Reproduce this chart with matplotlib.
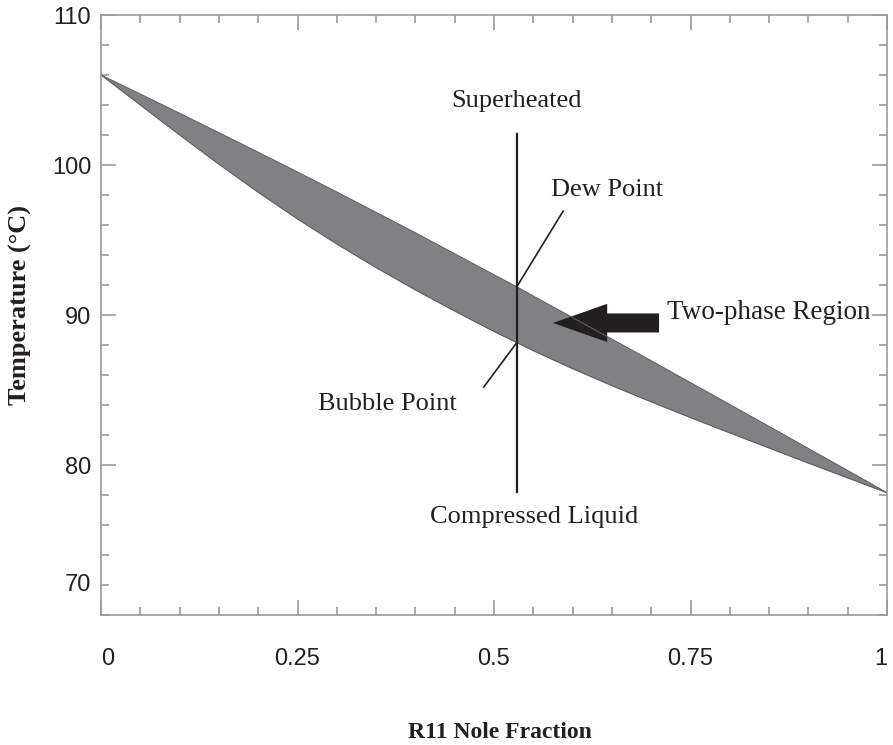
import matplotlib
matplotlib.use("Agg")
import matplotlib.pyplot as plt
from matplotlib.patches import FancyArrow
from matplotlib.ticker import MultipleLocator, FixedLocator

# R11 mole fraction and the two saturation curves (deg C)
x_frac = [0.0, 0.05, 0.1, 0.15, 0.2, 0.25, 0.3, 0.35, 0.4, 0.45, 0.5, 0.529,
          0.55, 0.6, 0.65, 0.7, 0.75, 0.8, 0.85, 0.9, 0.95, 1.0]
t_dew = [106.0, 104.73, 103.45, 102.15, 100.85, 99.53, 98.2, 96.84, 95.48,
         94.08, 92.68, 91.88, 91.26, 89.83, 88.39, 86.95, 85.49, 84.03,
         82.57, 81.1, 79.63, 78.15]
t_bubble = [106.0, 104.0, 102.0, 100.05, 98.18, 96.4, 94.73, 93.16, 91.67,
            90.26, 88.9, 88.16, 87.62, 86.42, 85.29, 84.21, 83.16, 82.14,
            81.13, 80.13, 79.14, 78.15]

# state line at fixed composition
x_state = 0.529
t_state = [78.2, 102.1]
t_dew_pt = 91.88
t_bubble_pt = 88.16

x_ticks = [0, 0.25, 0.5, 0.75, 1]
x_ticklabels = ["0", "0.25", "0.5", "0.75", "1"]
y_ticks = [80, 90, 100, 110]
y_ticklabels = ["80", "90", "100", "110"]

dark = "#231f20"
spine_col = "#9a9a9a"
serif = "Liberation Serif"
sans = "Liberation Sans"

fig = plt.figure(figsize=(8.93, 7.45), dpi=100)
ax = fig.add_axes([101 / 893, 130 / 745, 786 / 893, 600 / 745])

ax.fill_between(x_frac, t_bubble, t_dew, color="#808185", lw=0)
ax.plot(x_frac, t_dew, color="#5e5f62", lw=0.8)
ax.plot(x_frac, t_bubble, color="#5e5f62", lw=0.8)

ax.plot([x_state, x_state], t_state, color=dark, lw=1.6)
ax.plot([x_state, 0.588], [t_dew_pt, 96.93], color=dark, lw=1.2)
ax.plot([x_state, 0.487], [t_bubble_pt, 85.2], color=dark, lw=1.2)

ax.add_patch(FancyArrow(0.710, 89.47, -0.135, 0, width=1.27, head_width=2.55,
                        head_length=0.069, length_includes_head=True,
                        color=dark, lw=0))

ax.text(0.529, 104.3, "Superheated", family=serif, fontsize=19,
        ha="center", va="center", color=dark)
ax.text(0.644, 98.35, "Dew Point", family=serif, fontsize=19,
        ha="center", va="center", color=dark)
ax.text(0.720, 90.15, "Two-phase Region", family=serif, fontsize=19.5,
        ha="left", va="center", color=dark)
ax.text(0.3645, 84.05, "Bubble Point", family=serif, fontsize=19,
        ha="center", va="center", color=dark)
ax.text(0.551, 76.5, "Compressed Liquid", family=serif, fontsize=19,
        ha="center", va="center", color=dark)

ax.set_xlim(0, 1)
ax.set_ylim(70, 110)
ax.xaxis.set_major_locator(FixedLocator(x_ticks))
ax.xaxis.set_minor_locator(MultipleLocator(0.05))
ax.yaxis.set_major_locator(FixedLocator(y_ticks))
ax.yaxis.set_minor_locator(MultipleLocator(2))
ax.set_xticklabels(x_ticklabels, family=sans, fontsize=17, color=dark)
ax.set_yticklabels(y_ticklabels, family=sans, fontsize=17, color=dark)
# end labels kept inside the frame
xlabels = ax.get_xticklabels()
xlabels[0].set_ha("left")
xlabels[-1].set_ha("right")
# the lowest label sits on the 72 minor tick
ax.text(-0.013, 72, "70", transform=ax.get_yaxis_transform(), family=sans,
        fontsize=17, ha="right", va="center", color=dark)

ax.tick_params(which="both", direction="in", top=True, right=True,
               color=spine_col, width=1.2)
ax.tick_params(which="major", length=11)
ax.tick_params(which="minor", length=6)
ax.tick_params(axis="x", pad=24)
ax.tick_params(axis="y", pad=7)
for s in ax.spines.values():
    s.set_color(spine_col)
    s.set_linewidth(1.2)

fig.text(20 / 893, 1 - 305 / 745, "Temperature (°C)", family=serif,
         fontweight="bold", fontsize=19, rotation=90, ha="center", va="center",
         color=dark)
fig.text(500 / 893, 1 - 732 / 745, "R11 Nole Fraction", family=serif,
         fontweight="bold", fontsize=17, ha="center", va="center", color=dark)

fig.savefig("out.png", dpi=100)
